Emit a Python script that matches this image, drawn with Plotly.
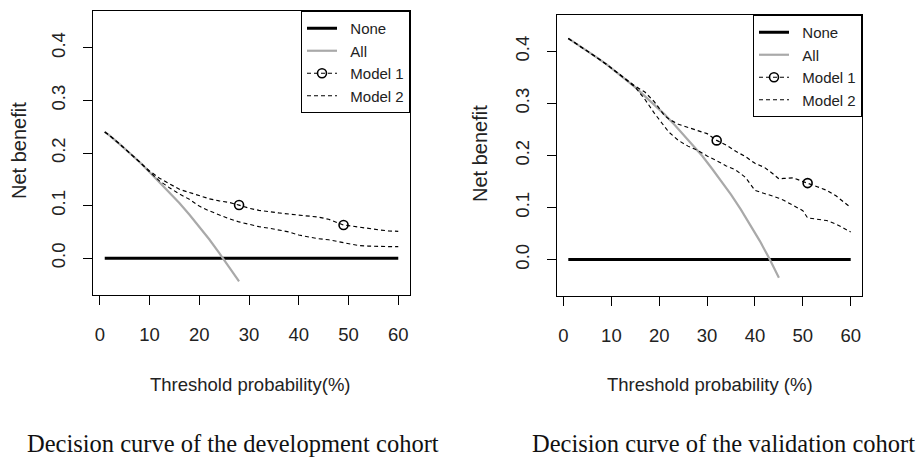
import plotly.graph_objects as go

# ---------------- data (threshold probability in %, net benefit) ----------------
# Development cohort
dev_t_all = [1, 2, 4, 6, 8, 10, 12, 14, 16, 18, 20, 22, 24, 26, 28]
dev_all = [0.240, 0.233, 0.217, 0.200, 0.183, 0.164, 0.145, 0.126, 0.105, 0.083,
           0.060, 0.036, 0.010, -0.016, -0.044]
dev_t = [1, 2, 4, 6, 8, 10, 12, 14, 16, 18, 20, 22, 24, 26, 28, 30, 32, 34, 36, 38,
         40, 42, 44, 46, 48, 49, 50, 52, 54, 56, 58, 60]
dev_m1 = [0.240, 0.233, 0.217, 0.200, 0.183, 0.166, 0.152, 0.141, 0.131, 0.125,
          0.119, 0.113, 0.109, 0.106, 0.101, 0.095, 0.091, 0.088, 0.086, 0.084,
          0.082, 0.080, 0.078, 0.074, 0.066, 0.063, 0.062, 0.059, 0.056, 0.054,
          0.052, 0.051]
dev_m2 = [0.240, 0.233, 0.217, 0.200, 0.183, 0.164, 0.147, 0.134, 0.122, 0.112,
          0.099, 0.090, 0.082, 0.075, 0.069, 0.064, 0.060, 0.057, 0.054, 0.050,
          0.044, 0.040, 0.037, 0.035, 0.031, 0.029, 0.028, 0.024, 0.023, 0.022,
          0.022, 0.022]
dev_marker_t = [28, 49]

# Validation cohort
val_t_all = [1, 3, 5, 7, 9, 11, 13, 15, 17, 19, 21, 23, 25, 27, 29, 31, 33, 35, 37,
             39, 41, 43, 45]
val_all = [0.425, 0.413, 0.401, 0.388, 0.375, 0.361, 0.346, 0.331, 0.314, 0.298,
           0.280, 0.261, 0.241, 0.221, 0.199, 0.175, 0.151, 0.125, 0.097, 0.067,
           0.036, 0.002, -0.035]
val_t = [1, 3, 5, 7, 9, 11, 13, 15, 17, 19, 21, 22, 24, 26, 28, 30, 32, 34, 36, 38,
         40, 42, 44, 45, 46, 48, 50, 51, 53, 55, 57, 60]
val_m1 = [0.425, 0.413, 0.401, 0.388, 0.375, 0.361, 0.346, 0.333, 0.322, 0.303,
          0.278, 0.270, 0.260, 0.254, 0.249, 0.242, 0.229, 0.220, 0.208, 0.198,
          0.185, 0.177, 0.163, 0.155, 0.156, 0.157, 0.150, 0.147, 0.140, 0.133,
          0.122, 0.100]
val_m2 = [0.425, 0.413, 0.401, 0.388, 0.375, 0.361, 0.346, 0.331, 0.308, 0.281,
          0.257, 0.245, 0.229, 0.218, 0.210, 0.199, 0.190, 0.180, 0.172, 0.158,
          0.133, 0.127, 0.122, 0.118, 0.114, 0.104, 0.094, 0.080, 0.077, 0.075,
          0.068, 0.053]
val_marker_t = [32, 51]

none_t = [1, 60]
none_nb = [0, 0]

x_ticks = [0, 10, 20, 30, 40, 50, 60]
y_ticks = [0.0, 0.1, 0.2, 0.3, 0.4]

# ---------------- styling ----------------
W, H = 920, 458
SANS = "Liberation Sans, Arial, sans-serif"
SERIF = "Liberation Serif, Times New Roman, serif"
GRAY = "#a9a9a9"
DASH = "4px,3px"
PAD = "\u00a0\u00a0"

fig = go.Figure()


def add_panel(xr, yr, leg, t_all, nb_all, t_m, m1, m2, marker_t):
    fig.add_trace(go.Scatter(x=none_t, y=none_nb, mode="lines", name=PAD + "None",
                             line=dict(color="black", width=3),
                             xaxis=xr, yaxis=yr, legend=leg))
    fig.add_trace(go.Scatter(x=t_all, y=nb_all, mode="lines", name=PAD + "All",
                             line=dict(color=GRAY, width=2.2),
                             xaxis=xr, yaxis=yr, legend=leg))
    # Model 1 line (legend entry comes from the marker trace)
    fig.add_trace(go.Scatter(x=t_m, y=m1, mode="lines", name="Model 1",
                             line=dict(color="black", width=1.2, dash=DASH),
                             showlegend=False, legendgroup=leg + "m1",
                             xaxis=xr, yaxis=yr, legend=leg))
    mx, my = [], []
    for k, mt in enumerate(marker_t):
        i = t_m.index(mt)
        if k > 0:
            mx.append(None)
            my.append(None)
        mx.append(t_m[i])
        my.append(m1[i])
    fig.add_trace(go.Scatter(x=mx, y=my, mode="lines+markers", name=PAD + "Model 1",
                             connectgaps=False,
                             line=dict(color="black", width=1.2, dash=DASH),
                             marker=dict(symbol="circle-open", size=9, color="black",
                                         line=dict(width=1.6, color="black")),
                             legendgroup=leg + "m1",
                             xaxis=xr, yaxis=yr, legend=leg))
    fig.add_trace(go.Scatter(x=t_m, y=m2, mode="lines", name=PAD + "Model 2",
                             line=dict(color="black", width=1.1, dash=DASH),
                             xaxis=xr, yaxis=yr, legend=leg))


add_panel("x", "y", "legend", dev_t_all, dev_all, dev_t, dev_m1, dev_m2, dev_marker_t)
add_panel("x2", "y2", "legend2", val_t_all, val_all, val_t, val_m1, val_m2, val_marker_t)

axis_common = dict(showline=True, mirror=True, linecolor="black", linewidth=1,
                   showgrid=False, zeroline=False, ticks="outside", ticklen=9,
                   tickwidth=1, tickcolor="black", automargin=False,
                   tickfont=dict(family=SANS, size=18.5, color="#222"))

legend_common = dict(xanchor="right", yanchor="top", bgcolor="white",
                     bordercolor="black", borderwidth=1,
                     font=dict(family=SANS, size=15, color="#222"),
                     itemwidth=30, tracegroupgap=0)

fig.update_layout(
    width=W, height=H,
    margin=dict(l=0, r=0, t=0, b=0),
    paper_bgcolor="white", plot_bgcolor="white",
    xaxis=dict(domain=[93 / W, 410 / W], range=[-1.36, 62.36], tickvals=x_ticks,
               anchor="y", ticklabelstandoff=14, **axis_common),
    yaxis=dict(domain=[(H - 295) / H, (H - 11) / H], range=[-0.07, 0.47],
               tickvals=y_ticks, tickformat=".1f", tickangle=-90, anchor="x",
               ticklabelstandoff=11, **axis_common),
    xaxis2=dict(domain=[557 / W, 862 / W], range=[-1.36, 62.36], tickvals=x_ticks,
                anchor="y2", ticklabelstandoff=14, **axis_common),
    yaxis2=dict(domain=[(H - 296) / H, (H - 15) / H], range=[-0.07, 0.47],
                tickvals=y_ticks, tickformat=".1f", tickangle=-90, anchor="x2",
                ticklabelstandoff=11, **axis_common),
    legend=dict(x=410 / W, y=(H - 11) / H, **legend_common),
    legend2=dict(x=862 / W, y=(H - 15) / H, **legend_common),
    showlegend=True,
)

annos = [
    dict(text="Net benefit", x=19 / W, y=1 - 151 / H, textangle=-90,
         font=dict(family=SANS, size=20, color="#222")),
    dict(text="Net benefit", x=480 / W, y=1 - 154 / H, textangle=-90,
         font=dict(family=SANS, size=20, color="#222")),
    dict(text="Threshold probability(%)", x=251 / W, y=1 - 384 / H,
         font=dict(family=SANS, size=18.5, color="#222")),
    dict(text="Threshold probability (%)", x=710 / W, y=1 - 384 / H,
         font=dict(family=SANS, size=18.5, color="#222")),
    dict(text="Decision curve of the development cohort", x=233 / W, y=1 - 443 / H,
         font=dict(family=SERIF, size=24.5, color="#111")),
    dict(text="Decision curve of the validation cohort", x=723 / W, y=1 - 443 / H,
         font=dict(family=SERIF, size=24.5, color="#111")),
]
for a in annos:
    fig.add_annotation(xref="paper", yref="paper", showarrow=False,
                       xanchor="center", yanchor="middle", **a)

fig.write_html("out.html",
               config={"displayModeBar": False},
               post_script="document.body.style.margin='0';"
                           "document.body.style.overflow='hidden';")
